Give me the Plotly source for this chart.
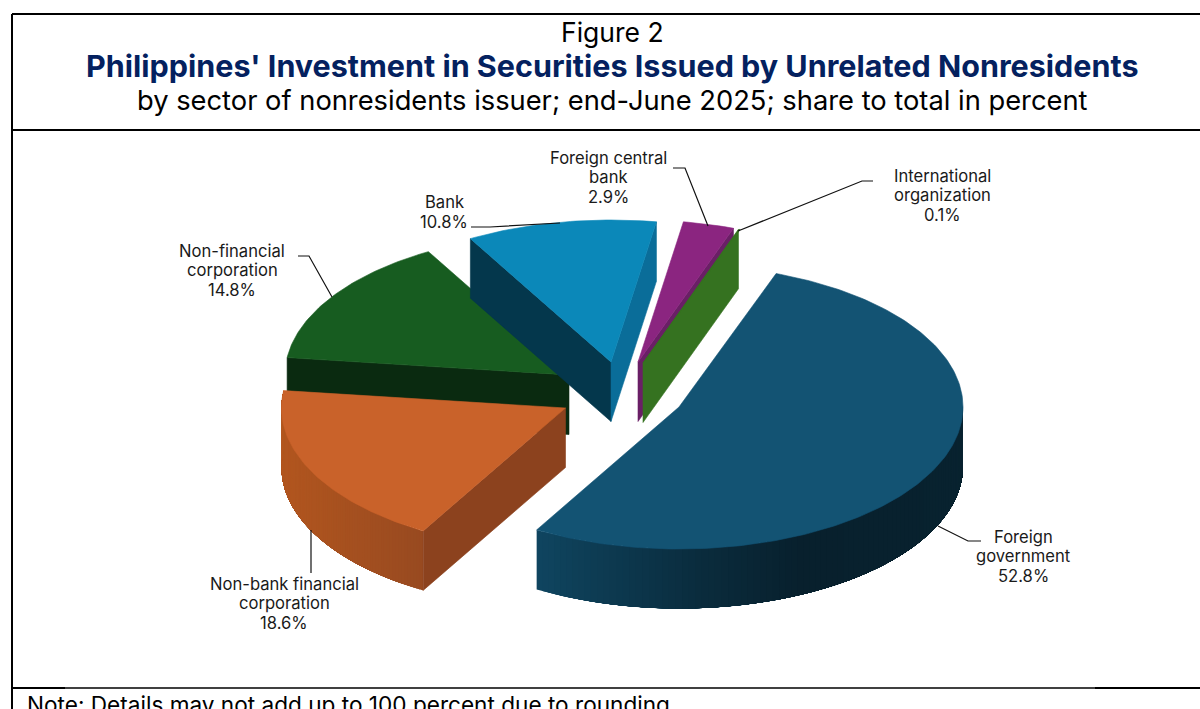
import math
import plotly.graph_objects as go

# ---- data ----
categories = ["Foreign government", "Non-bank financial corporation", "Non-financial corporation",
              "Bank", "Foreign central bank", "International organization"]
shares = [52.8, 18.6, 14.8, 10.8, 2.9, 0.1]
label_lines = [["Foreign", "government"], ["Non-bank financial", "corporation"], ["Non-financial", "corporation"],
               ["Bank"], ["Foreign central", "bank"], ["International", "organization"]]

title_top = "Figure 2"
title_main = "Philippines' Investment in Securities Issued by Unrelated Nonresidents"
title_sub = "by sector of nonresidents issuer; end-June 2025; share to total in percent"
note = "Note: Details may not add up to 100 percent due to rounding"

# ---- pie projection ----
START_ANGLE = 20.0
RX, RY, DEPTH = 284.0, 142.0, 59.5
slice_anchor = [(679, 407), (565.5, 408), (569, 375), (611, 362), (638, 362), (643, 363)]
top_color = ["#135373", "#c9622a", "#175c20", "#0b88b9", "#8b2580", "#357220"]
# colours of the walls: (start-edge wall, end-edge wall); None = hidden
wall_color = [(None, None), ("#8c421e", None), ("#0a2a10", None),
              ("#04374c", "#0a6d99"), (None, "#6a1f66"), ("#357220", None)]
rim_stops = [[(535, "#0f4560"), (700, "#0a2c3d"), (800, "#08202d"), (963, "#08222f")],
             [(281, "#b2561f"), (422, "#984a20")], None, None, None, None]
label_center = [(1023, 556), (284, 603), (232, 270), (444, 212), (608, 177), (942, 195)]
leaders = [[(938, 526), (968, 541), (981, 541)],
           [(311, 530), (311, 573)],
           [(298, 256), (309, 256), (332, 297)],
           [(471, 227), (490, 227), (560, 223)],
           [(673, 168), (685, 168), (708, 226)],
           [(738, 231), (862, 181), (873, 181)]]
draw_order = [2, 3, 4, 5, 0, 1]
LINE_STEP = 19.5
RIM_BANDS = 90


def pt(anchor, t, drop=0.0):
    r = math.radians(t)
    return anchor[0] + RX * math.sin(r), anchor[1] - RY * math.cos(r) + drop


def mix(stops, x):
    def rgb(h):
        return [int(h[i:i + 2], 16) for i in (1, 3, 5)]
    if x <= stops[0][0]:
        return stops[0][1]
    for (x0, c0), (x1, c1) in zip(stops, stops[1:]):
        if x <= x1:
            f = (x - x0) / (x1 - x0)
            a, b = rgb(c0), rgb(c1)
            return "#%02x%02x%02x" % tuple(round(p + (q - p) * f) for p, q in zip(a, b))
    return stops[-1][1]


def poly(fig, xy, color, name=None, hover=None, edge=0.6):
    fig.add_trace(go.Scatter(
        x=[p[0] for p in xy] + [xy[0][0]], y=[p[1] for p in xy] + [xy[0][1]],
        mode="lines", fill="toself", fillcolor=color,
        line=dict(color=color, width=edge), showlegend=False, name=name,
        hoverinfo="text" if hover else "skip", text=hover, hoveron="fills"))


spans, acc = [], START_ANGLE
for s in shares:
    spans.append((acc, acc + s * 3.6))
    acc += s * 3.6

fig = go.Figure()
for i in draw_order:
    a = slice_anchor[i]
    t0, t1 = spans[i]
    # outer rim: each band runs to the far end of the arc and the next one paints over it,
    # so that no seam shows between the colour steps
    if rim_stops[i]:
        lo, hi = max(t0, 90.0), min(t1, 280.0)
        if hi - lo > 0:
            ticks = [lo + (hi - lo) * k / RIM_BANDS for k in range(RIM_BANDS + 1)]
            order = list(range(RIM_BANDS))
            if i == 0:
                order.reverse()
            for k in order:
                u, v = ticks[k], ticks[k + 1]
                mid = pt(a, (u + v) / 2)[0]
                span_t = [hi - (hi - u) * j / 20 for j in range(21)] if i != 0 else \
                         [lo + (v - lo) * j / 20 for j in range(21)]
                top = [pt(a, t) for t in span_t]
                bottom = [pt(a, t, DEPTH) for t in reversed(span_t)]
                poly(fig, top + bottom, mix(rim_stops[i], mid), edge=0)
    # radial walls
    for t, col in zip((t0, t1), wall_color[i]):
        if col:
            e = pt(a, t)
            poly(fig, [a, e, (e[0], e[1] + DEPTH), (a[0], a[1] + DEPTH)], col)
    # top face
    m = max(3, int((t1 - t0) / 1.0))
    arc = [pt(a, t0 + (t1 - t0) * k / m) for k in range(m + 1)]
    poly(fig, [a] + arc, top_color[i], categories[i], f"{categories[i]}: {shares[i]}%")

shapes = [dict(type="line", x0=x0, y0=y0, x1=x1, y1=y1, line=dict(color="#000000", width=w))
          for x0, y0, x1, y1, w in [(12, 14, 1200, 14, 2), (12, 130, 1200, 130, 2), (12, 14, 12, 709, 2),
                                    (12, 688, 1200, 688, 1.6), (12, 688, 65, 688, 2), (1095, 688, 1200, 688, 2)]]
for path in leaders:
    d = "M " + " L ".join(f"{x},{y}" for x, y in path)
    shapes.append(dict(type="path", path=d, line=dict(color="#111111", width=1.2)))

FONT = "Inter"
ann = [dict(x=612, y=32, text=title_top, font=dict(size=26.5, color="#000000")),
       dict(x=612, y=65, text=f"<b>{title_main}</b>", font=dict(size=30.5, color="#04215f")),
       dict(x=612, y=100, text=title_sub, font=dict(size=27.3, color="#000000")),
       dict(x=25, y=704, text=note, xanchor="left", font=dict(size=22.6, color="#000000"))]
for lines, v, (x, yc) in zip(label_lines, shares, label_center):
    rows = lines + [f"{v:.1f}%"]
    for k, row in enumerate(rows):
        ann.append(dict(x=x, y=yc + (k - (len(rows) - 1) / 2) * LINE_STEP, text=row,
                        font=dict(size=16.6, color="#1a1a1a")))
for d in ann:
    d.update(xref="x", yref="y", showarrow=False)
    d.setdefault("xanchor", "center")
    d["yanchor"] = "middle"
    d["font"]["family"] = FONT

fig.update_layout(width=1200, height=709, margin=dict(l=0, r=0, t=0, b=0),
                  paper_bgcolor="#ffffff", plot_bgcolor="#ffffff", showlegend=False,
                  xaxis=dict(range=[0, 1200], visible=False, fixedrange=True),
                  yaxis=dict(range=[709, 0], visible=False, fixedrange=True),
                  shapes=shapes, annotations=ann, font=dict(family=FONT))
fig.write_html("out.html", config=dict(displayModeBar=False),
               post_script="document.body.style.margin='0';document.body.style.overflow='hidden';")
